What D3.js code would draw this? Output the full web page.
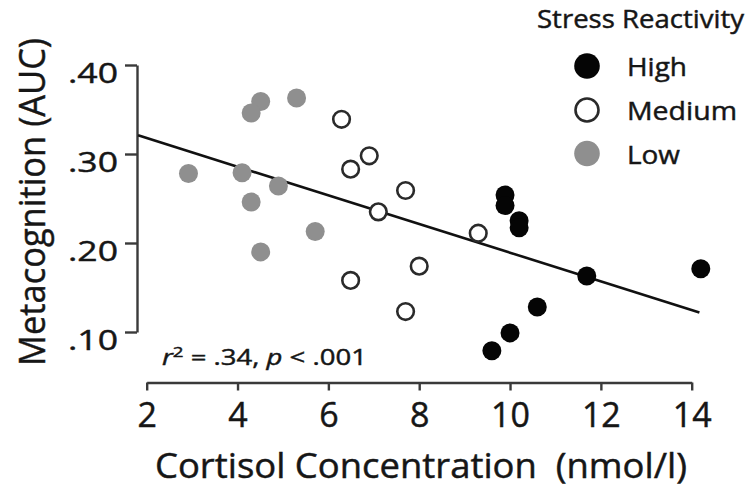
<!DOCTYPE html>
<html><head><meta charset="utf-8">
<script src="https://cdn.jsdelivr.net/npm/d3@7"></script>
<style>
body{margin:0;background:#fff}
svg{display:block}
text{font-family:'Open Sans',sans-serif;fill:#161616;stroke:#161616;stroke-width:0.45px}
</style>
</head><body>
<svg id="c" width="752" height="487"></svg>
<script>
// ---- data ----
const groups = ["High", "Medium", "Low"];
const highX = [9.89, 9.89, 10.20, 10.20, 11.69, 14.20, 10.60, 10.00, 9.60];
const highY = [0.254, 0.242, 0.225, 0.217, 0.163, 0.171, 0.128, 0.099, 0.079];
const mediumX = [6.29, 6.90, 6.49, 7.70, 7.10, 9.30, 8.00, 6.49, 7.70];
const mediumY = [0.339, 0.298, 0.283, 0.259, 0.235, 0.211, 0.174, 0.158, 0.123];
const lowX = [4.51, 4.30, 5.30, 2.92, 4.10, 4.90, 4.30, 5.71, 4.51];
const lowY = [0.359, 0.346, 0.363, 0.278, 0.279, 0.264, 0.246, 0.213, 0.190];
const xTicks = [2, 4, 6, 8, 10, 12, 14];
const yTicks = [0.10, 0.20, 0.30, 0.40];
const regX = [1.81, 14.17];
const regY = [0.321, 0.122];
const xTitle = "Cortisol Concentration  (nmol/l)";
const yTitle = "Metacognition (AUC)";
const legendTitle = "Stress Reactivity";

// ---- styles ----
const groupStyle = {
  High:   {fill: "#050505", stroke: "none", sw: 0},
  Medium: {fill: "#ffffff", stroke: "#2a2a2a", sw: 2.6},
  Low:    {fill: "#8f8f8f", stroke: "none", sw: 0}
};
const series = {
  High: highX.map((v, i) => ({x: v, y: highY[i]})),
  Medium: mediumX.map((v, i) => ({x: v, y: mediumY[i]})),
  Low: lowX.map((v, i) => ({x: v, y: lowY[i]}))
};

const svg = d3.select("#c");
const x = d3.scaleLinear().domain([2, 14]).range([146.7, 691.7]);
const y = d3.scaleLinear().domain([0.10, 0.40]).range([332, 65]);
const axisColor = "#3a3a3a";

// y axis
const yAxis = svg.append("g").attr("transform", "translate(137,0)")
  .call(d3.axisLeft(y).tickValues(yTicks).tickSize(12).tickSizeOuter(0)
    .tickFormat(d => d3.format(".2f")(d).replace(/^0/, "")));
yAxis.select(".domain").attr("stroke", axisColor).attr("stroke-width", 2.4);
yAxis.selectAll(".tick line").attr("stroke", axisColor).attr("stroke-width", 2.4);
yAxis.selectAll(".tick text")
  .attr("x", -19).attr("y", 17).attr("dy", null)
  .attr("font-size", 28).attr("font-family", "'Open Sans',sans-serif")
  .attr("fill", "#161616")
  .attr("textLength", 50).attr("lengthAdjust", "spacingAndGlyphs");

// x axis
const xAxis = svg.append("g").attr("transform", "translate(0,382.5)")
  .call(d3.axisBottom(x).tickValues(xTicks).tickSize(8).tickSizeOuter(0));
xAxis.select(".domain").attr("stroke", axisColor).attr("stroke-width", 2.4);
xAxis.selectAll(".tick line").attr("stroke", axisColor).attr("stroke-width", 2.4);
xAxis.selectAll(".tick text")
  .attr("y", 44).attr("dy", null)
  .attr("font-size", 34).attr("font-family", "'Open Sans',sans-serif")
  .attr("fill", "#161616");

// axis titles
svg.append("text")
  .attr("x", 155).attr("y", 478)
  .attr("font-size", 34)
  .style("white-space", "pre")
  .attr("textLength", 532).attr("lengthAdjust", "spacingAndGlyphs")
  .text(xTitle);

svg.append("text")
  .attr("transform", "translate(45,202) rotate(-90)")
  .attr("text-anchor", "middle")
  .attr("font-size", 37)
  .attr("textLength", 328).attr("lengthAdjust", "spacingAndGlyphs")
  .text(yTitle);

// regression line
svg.append("line")
  .attr("x1", x(regX[0])).attr("y1", y(regY[0]))
  .attr("x2", x(regX[1])).attr("y2", y(regY[1]))
  .attr("stroke", "#111").attr("stroke-width", 2.6);

// points
["Low", "Medium", "High"].forEach(g => {
  const s = groupStyle[g];
  svg.append("g").selectAll("circle").data(series[g]).join("circle")
    .attr("cx", d => x(d.x)).attr("cy", d => y(d.y))
    .attr("r", g === "Medium" ? 8.3 : 9.5)
    .attr("fill", s.fill).attr("stroke", s.stroke).attr("stroke-width", s.sw);
});

// stats annotation
const ann = svg.append("text").attr("font-size", 22);
ann.append("tspan").attr("font-style", "italic").text("r");
ann.append("tspan").attr("font-size", 15).attr("dy", -8).text("2");
ann.append("tspan").attr("dy", 8).text(" = .34, ");
ann.append("tspan").attr("font-style", "italic").text("p");
ann.append("tspan").text(" < .001");
const annW = ann.node().getComputedTextLength();
ann.attr("transform", `translate(162,365) scale(${205 / annW},1)`);

// legend
svg.append("text")
  .attr("x", 537).attr("y", 28)
  .attr("font-size", 25)
  .attr("textLength", 207).attr("lengthAdjust", "spacingAndGlyphs")
  .text(legendTitle);
const legY = [66, 110, 153.5];
const legW = {High: 60, Medium: 110, Low: 53};
const leg = svg.append("g").selectAll("g").data(groups).join("g")
  .attr("transform", (d, i) => `translate(0,${legY[i]})`);
leg.append("circle")
  .attr("cx", 587).attr("cy", 0)
  .attr("r", d => d === "Medium" ? 11.5 : 12.8)
  .attr("fill", d => groupStyle[d].fill)
  .attr("stroke", d => groupStyle[d].stroke)
  .attr("stroke-width", d => groupStyle[d].sw);
leg.append("text")
  .attr("x", 627).attr("y", 10)
  .attr("font-size", 25)
  .attr("textLength", d => legW[d]).attr("lengthAdjust", "spacingAndGlyphs")
  .text(d => d);
</script>
</body></html>
